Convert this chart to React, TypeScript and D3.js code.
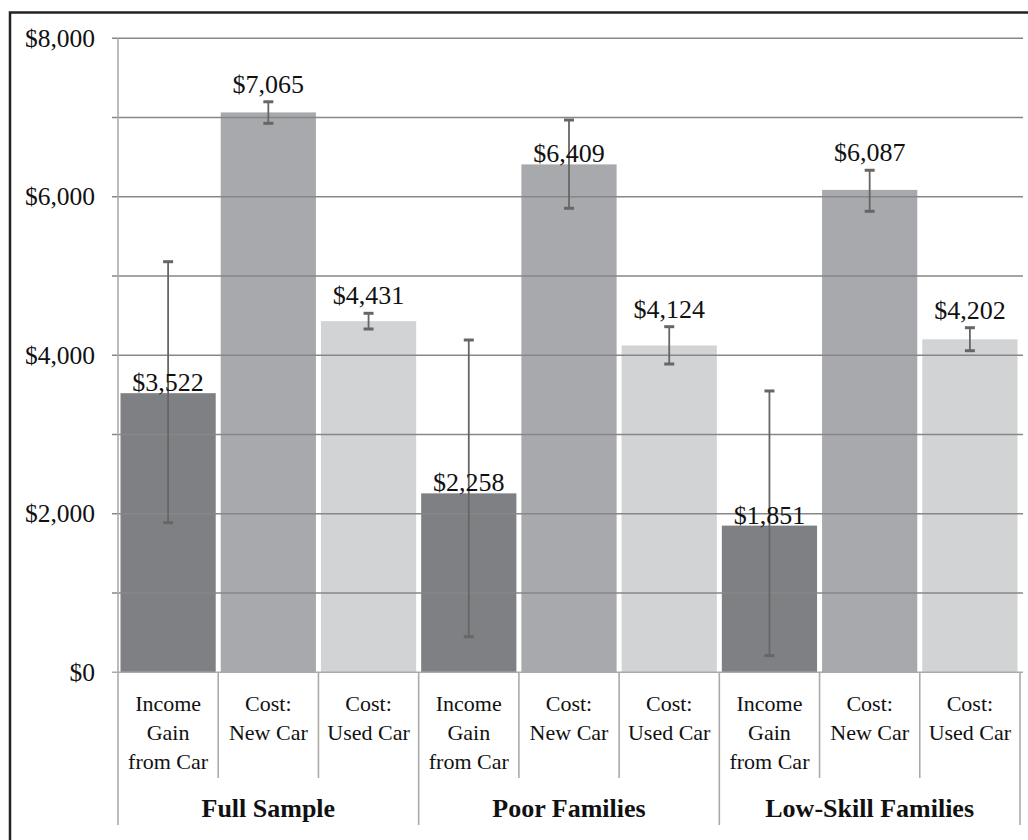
import React, { useEffect, useRef } from 'react';
import * as d3 from 'd3';

// groups and the three measures inside each group
const groups = ["Full Sample", "Poor Families", "Low-Skill Families"];
const measures = [
  ["Income", "Gain", "from Car"],
  ["Cost:", "New Car"],
  ["Cost:", "Used Car"],
];

// bar values, per group (income gain, new car cost, used car cost)
const fullSample = [3522, 7065, 4431];
const poorFamilies = [2258, 6409, 4124];
const lowSkillFamilies = [1851, 6087, 4202];

// error bar ends
const fullSampleLow = [1888, 6927, 4332];
const fullSampleHigh = [5181, 7199, 4530];
const poorFamiliesLow = [449, 5855, 3890];
const poorFamiliesHigh = [4193, 6969, 4361];
const lowSkillLow = [210, 5817, 4058];
const lowSkillHigh = [3550, 6335, 4348];

const yTicks = [0, 1000, 2000, 3000, 4000, 5000, 6000, 7000, 8000];
const yLabelTicks = [0, 2000, 4000, 6000, 8000];

const barColors = ["#7f8084", "#a8a9ac", "#d2d3d5"];
const FONT = '"Liberation Serif", "Times New Roman", serif';

const App: React.FC = () => {
  const svgRef = useRef<SVGSVGElement>(null);

  useEffect(() => {
    if (!svgRef.current) return;
    const svg = d3.select(svgRef.current);
    svg.selectAll("*").remove();

    const values = [fullSample, poorFamilies, lowSkillFamilies];
    const lows = [fullSampleLow, poorFamiliesLow, lowSkillLow];
    const highs = [fullSampleHigh, poorFamiliesHigh, lowSkillHigh];

    const rows = groups.flatMap((g, gi) =>
      measures.map((m, mi) => ({
        key: `${gi}-${mi}`,
        group: gi,
        measure: mi,
        lines: m,
        value: values[gi][mi],
        lo: lows[gi][mi],
        hi: highs[gi][mi],
      }))
    );

    const left = 118, right = 1020, top = 38.3, bottom = 672.3;

    const x = d3.scaleBand()
      .domain(rows.map(d => d.key))
      .range([left, right])
      .paddingInner(0.05)
      .paddingOuter(0.025);

    const y = d3.scaleLinear().domain([0, 8000]).range([bottom, top]);

    const step = x.step();
    const boundary = (i: number) => left + i * step;

    // outer frame (only top and left visible in the crop)
    svg.append("rect")
      .attr("x", 10).attr("y", 12.5)
      .attr("width", 1100).attr("height", 900)
      .attr("fill", "none")
      .attr("stroke", "#222")
      .attr("stroke-width", 2.5);

    // bars
    svg.append("g")
      .selectAll("rect")
      .data(rows)
      .enter()
      .append("rect")
      .attr("x", d => x(d.key) || 0)
      .attr("y", d => y(d.value))
      .attr("width", x.bandwidth())
      .attr("height", d => bottom - y(d.value))
      .attr("fill", d => barColors[d.measure]);

    // gridlines, drawn over the bars
    svg.append("g")
      .selectAll("line")
      .data(yTicks)
      .enter()
      .append("line")
      .attr("x1", left - 6)
      .attr("x2", right + 3)
      .attr("y1", d => y(d))
      .attr("y2", d => y(d))
      .attr("stroke", d => d === 0 ? "#aaa" : "#878787")
      .attr("stroke-width", 1.6);

    // y axis line
    svg.append("line")
      .attr("x1", left).attr("x2", left)
      .attr("y1", top).attr("y2", bottom)
      .attr("stroke", "#aaa")
      .attr("stroke-width", 1.6);

    // y labels
    svg.append("g")
      .selectAll("text")
      .data(yLabelTicks)
      .enter()
      .append("text")
      .attr("x", 95)
      .attr("y", d => y(d) + 8.5)
      .attr("text-anchor", "end")
      .style("font-family", FONT)
      .style("font-size", "25.5px")
      .attr("fill", "#111")
      .text(d => d3.format("$,")(d));

    // error bars
    const err = svg.append("g")
      .selectAll("g")
      .data(rows)
      .enter()
      .append("g")
      .attr("stroke", "#666");
    const cx = (d: any) => (x(d.key) || 0) + x.bandwidth() / 2;
    err.append("line")
      .attr("x1", cx).attr("x2", cx)
      .attr("y1", d => y(d.lo)).attr("y2", d => y(d.hi))
      .attr("stroke-width", 1.8);
    err.append("line")
      .attr("x1", d => cx(d) - 5).attr("x2", d => cx(d) + 5)
      .attr("y1", d => y(d.lo)).attr("y2", d => y(d.lo))
      .attr("stroke-width", 3);
    err.append("line")
      .attr("x1", d => cx(d) - 5).attr("x2", d => cx(d) + 5)
      .attr("y1", d => y(d.hi)).attr("y2", d => y(d.hi))
      .attr("stroke-width", 3);

    // value labels
    svg.append("g")
      .selectAll("text")
      .data(rows)
      .enter()
      .append("text")
      .attr("x", cx)
      .attr("y", d => (y(d.value) - y(d.hi) < 30 ? y(d.hi) - 9 : y(d.value) - 2))
      .attr("text-anchor", "middle")
      .style("font-family", FONT)
      .style("font-size", "26px")
      .attr("fill", "#111")
      .text(d => d3.format("$,")(d.value));

    // category divider lines
    const divs = d3.range(rows.length + 1);
    svg.append("g")
      .selectAll("line")
      .data(divs)
      .enter()
      .append("line")
      .attr("x1", d => boundary(d))
      .attr("x2", d => boundary(d))
      .attr("y1", bottom)
      .attr("y2", d => (d % 3 === 0 ? 825 : 778))
      .attr("stroke", "#aaa")
      .attr("stroke-width", 1.6);

    // measure labels
    svg.append("g")
      .selectAll("text")
      .data(rows)
      .enter()
      .append("text")
      .attr("text-anchor", "middle")
      .style("font-family", FONT)
      .style("font-size", "22px")
      .attr("fill", "#111")
      .each(function (d) {
        d3.select(this)
          .selectAll("tspan")
          .data(d.lines)
          .enter()
          .append("tspan")
          .attr("x", cx(d))
          .attr("y", (_, i) => 711 + i * 29)
          .text(t => t);
      });

    // group labels
    svg.append("g")
      .selectAll("text")
      .data(groups)
      .enter()
      .append("text")
      .attr("x", (_, i) => (boundary(i * 3) + boundary(i * 3 + 3)) / 2)
      .attr("y", 817)
      .attr("text-anchor", "middle")
      .style("font-family", FONT)
      .style("font-size", "26px")
      .style("font-weight", "bold")
      .attr("fill", "#111")
      .text(d => d);
  }, []);

  return (
    <svg
      ref={svgRef}
      width={1028}
      height={840}
      style={{ position: 'absolute', left: 0, top: 0, background: '#fff' }}
    ></svg>
  );
};

export default App;
